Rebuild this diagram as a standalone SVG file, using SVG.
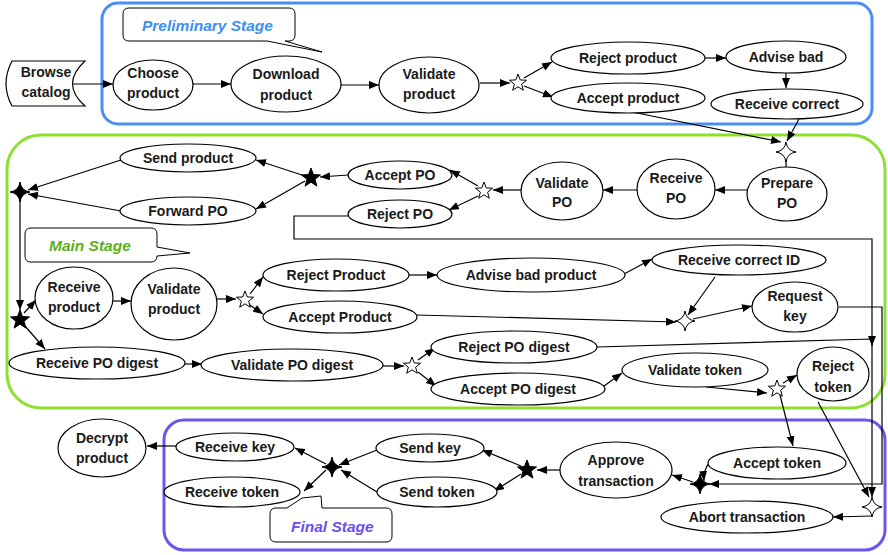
<svg xmlns="http://www.w3.org/2000/svg" width="888" height="555" viewBox="0 0 888 555">
<style>
.n ellipse,.n path{fill:#fff;stroke:#000;stroke-width:1.2}
.n text{font-family:"Liberation Sans",Arial,sans-serif;font-weight:bold;font-size:14px;text-anchor:middle;fill:#1a1a1a}
.c path{fill:none;stroke:#000;stroke-width:1.2}
.a{marker-end:url(#ah)}
.sw{fill:#fff;stroke:#000;stroke-width:1}
.sb{fill:#000;stroke:#000;stroke-width:1}
.co{fill:#fff;stroke:#000;stroke-width:1}
.lbl{font-family:"Liberation Sans",Arial,sans-serif;font-weight:bold;font-style:italic;font-size:15.5px}
</style>
<defs>
<marker id="ah" markerUnits="userSpaceOnUse" markerWidth="11" markerHeight="9" refX="10" refY="4" orient="auto">
<path d="M0,0 L10,4 L0,8 Z" fill="#000"/>
</marker>
<path id="s5" d="M0,-9 L2.23,-3.07 L8.56,-2.78 L3.61,1.17 L5.29,7.28 L0,3.8 L-5.29,7.28 L-3.61,1.17 L-8.56,-2.78 L-2.23,-3.07 Z"/>
<path id="s5b" d="M0,-10 L2.48,-3.41 L9.51,-3.09 L4.01,1.3 L5.88,8.09 L0,4.2 L-5.88,8.09 L-4.01,1.3 L-9.51,-3.09 L-2.48,-3.41 Z"/>
<path id="s4" d="M0,-10 Q1.2,-1.2 10,0 Q1.2,1.2 0,10 Q-1.2,1.2 -10,0 Q-1.2,-1.2 0,-10 Z"/>
</defs>
<rect width="888" height="555" fill="#fff"/>
<g id="stages">
<rect x="102" y="3" width="770" height="121" rx="16" fill="none" stroke="#4a8ef2" stroke-width="3"/>
<rect x="7" y="135" width="878" height="273" rx="34" fill="none" stroke="#8ddf32" stroke-width="3"/>
<rect x="164" y="420" width="721" height="130" rx="20" fill="none" stroke="#6b55ee" stroke-width="3"/>
</g>
<g id="callouts">
<path class="co" d="M129,8 H289 Q295,8 295,14 V35 Q295,41 289,41 H285 L322,52 L267,41 H129 Q123,41 123,35 V14 Q123,8 129,8 Z"/>
<text class="lbl" x="142" y="31" fill="#3d8ff5">Preliminary Stage</text>
<path class="co" d="M31,228 H151 Q157,228 157,234 V247 L190,253 L157,256 Q157,262 151,262 H31 Q25,262 25,256 V234 Q25,228 31,228 Z"/>
<text class="lbl" x="49" y="251" fill="#5fae1a">Main Stage</text>
<path class="co" d="M276,508 H287 L302,498 L321,496 L322,508 H386 Q392,508 392,514 V536 Q392,542 386,542 H276 Q270,542 270,536 V514 Q270,508 276,508 Z"/>
<text class="lbl" x="291" y="532" fill="#6a4ff0">Final Stage</text>
</g>
<g id="connectors" class="c">
<path class="a" d="M72,84 L113,84"/>
<path class="a" d="M192,84 L231,84"/>
<path class="a" d="M341,85 L379,85"/>
<path class="a" d="M480,83 L510,83"/>
<path class="a" d="M524,78 L552,62"/>
<path class="a" d="M524,86 L553,97"/>
<path class="a" d="M705,58 L726,58"/>
<path class="a" d="M786,73 L786,88"/>
<path class="a" d="M632,112 L781,142"/>
<path class="a" d="M799,119 L787,141"/>
<path d="M786,160 L786,167"/>
<path class="a" d="M748,190 L715,190"/>
<path class="a" d="M637,190 L603,190"/>
<path class="a" d="M522,190 L493,190"/>
<path class="a" d="M478,186 L450,170"/>
<path class="a" d="M478,196 L449,210"/>
<path class="a" d="M348,175 L320,177"/>
<path class="a" d="M305,176 L256,160"/>
<path class="a" d="M305,181 L256,209"/>
<path class="a" d="M121,160 L28,190"/>
<path class="a" d="M121,211 L28,194"/>
<path class="a" d="M20,200 L20,310"/>
<path class="a" d="M24,313 L36,300"/>
<path class="a" d="M25,326 L45,349"/>
<path class="a" d="M113,301 L131,301"/>
<path class="a" d="M217,299 L236,299"/>
<path class="a" d="M250,294 L263,277"/>
<path class="a" d="M250,305 L263,314"/>
<path class="a" d="M408,275 L437,275"/>
<path class="a" d="M624,274 L652,259"/>
<path class="a" d="M715,277 L688,315"/>
<path class="a" d="M417,315 L676,322"/>
<path class="a" d="M693,319 L752,306"/>
<path class="a" d="M839,307 H882 V484 H709"/>
<path class="a" d="M185,364 L202,364"/>
<path class="a" d="M383,366 L404,366"/>
<path class="a" d="M418,360 L435,348"/>
<path class="a" d="M418,372 L436,386"/>
<path class="a" d="M597,347 L872,339 L872,346"/>
<path class="a" d="M604,386 L622,373"/>
<path class="a" d="M706,387 L767,393"/>
<path class="a" d="M783,383 L797,375"/>
<path class="a" d="M780,395 L793,446"/>
<path class="a" d="M348,216 H294 V239 H872 V497"/>
<path class="a" d="M818,402 L869,497"/>
<path class="a" d="M872,516 L833,517"/>
<path class="a" d="M710,462 Q703,470 704,481"/>
<path class="a" d="M693,482 L672,475"/>
<path class="a" d="M560,470 L537,470"/>
<path class="a" d="M521,466 L482,450"/>
<path class="a" d="M521,474 L494,491"/>
<path class="a" d="M377,450 L339,465"/>
<path class="a" d="M377,492 L341,470"/>
<path class="a" d="M326,464 L295,448"/>
<path class="a" d="M326,470 L304,491"/>
<path class="a" d="M176,446 L147,446"/>
</g>
<g id="gateways">
<use href="#s5" class="sw" x="518" y="83"/>
<use href="#s5" class="sw" x="484" y="191"/>
<use href="#s5" class="sw" x="245" y="300"/>
<use href="#s5" class="sw" x="412" y="366"/>
<use href="#s5" class="sw" x="777" y="389"/>
<use href="#s5b" class="sb" x="311" y="178"/>
<use href="#s5b" class="sb" x="20" y="320"/>
<use href="#s5b" class="sb" x="527" y="470"/>
<use href="#s4" class="sw" x="786" y="152"/>
<use href="#s4" class="sw" x="685" y="321"/>
<use href="#s4" class="sw" x="872" y="507"/>
<use href="#s4" class="sb" x="20" y="192"/>
<use href="#s4" class="sb" x="700" y="484"/>
<use href="#s4" class="sb" x="332" y="467"/>
</g>
<g id="browse-catalog" class="n"><path d="M12,61 L85,61 Q60,84 85,106 L12,106 Q0,84 12,61 Z"/><text x="46" y="77">Browse</text><text x="46" y="97">catalog</text></g>
<g id="choose-product" class="n"><ellipse cx="153" cy="85" rx="40" ry="25"/><text x="153" y="78">Choose</text><text x="153" y="98">product</text></g>
<g id="download-product" class="n"><ellipse cx="286" cy="84" rx="55" ry="28"/><text x="286" y="79">Download</text><text x="286" y="100">product</text></g>
<g id="validate-product-1" class="n"><ellipse cx="429" cy="85" rx="50" ry="28"/><text x="429" y="79">Validate</text><text x="429" y="99">product</text></g>
<g id="reject-product-1" class="n"><ellipse cx="628" cy="58" rx="77" ry="16"/><text x="628" y="63">Reject product</text></g>
<g id="accept-product-1" class="n"><ellipse cx="628" cy="98" rx="77" ry="15"/><text x="628" y="103">Accept product</text></g>
<g id="advise-bad" class="n"><ellipse cx="786" cy="57" rx="60" ry="16"/><text x="786" y="62">Advise bad</text></g>
<g id="receive-correct" class="n"><ellipse cx="787" cy="104" rx="76" ry="15"/><text x="787" y="109">Receive correct</text></g>
<g id="prepare-po" class="n"><ellipse cx="787" cy="194" rx="40" ry="27"/><text x="787" y="188">Prepare</text><text x="787" y="208">PO</text></g>
<g id="receive-po" class="n"><ellipse cx="676" cy="189" rx="39" ry="30"/><text x="676" y="183">Receive</text><text x="676" y="203">PO</text></g>
<g id="validate-po" class="n"><ellipse cx="562" cy="191" rx="41" ry="29"/><text x="562" y="188">Validate</text><text x="562" y="207">PO</text></g>
<g id="accept-po" class="n"><ellipse cx="400" cy="175" rx="52" ry="14"/><text x="400" y="180">Accept PO</text></g>
<g id="reject-po" class="n"><ellipse cx="400" cy="214" rx="52" ry="14"/><text x="400" y="219">Reject PO</text></g>
<g id="send-product" class="n"><ellipse cx="188" cy="158" rx="68" ry="14"/><text x="188" y="163">Send product</text></g>
<g id="forward-po" class="n"><ellipse cx="188" cy="211" rx="68" ry="14"/><text x="188" y="216">Forward PO</text></g>
<g id="receive-product" class="n"><ellipse cx="74" cy="298" rx="39" ry="31"/><text x="74" y="292">Receive</text><text x="74" y="312">product</text></g>
<g id="validate-product-2" class="n"><ellipse cx="174" cy="304" rx="43" ry="36"/><text x="174" y="294">Validate</text><text x="174" y="314">product</text></g>
<g id="reject-product-2" class="n"><ellipse cx="336" cy="275" rx="73" ry="16"/><text x="336" y="280">Reject Product</text></g>
<g id="accept-product-2" class="n"><ellipse cx="340" cy="317" rx="77" ry="16"/><text x="340" y="322">Accept Product</text></g>
<g id="advise-bad-product" class="n"><ellipse cx="531" cy="275" rx="94" ry="17"/><text x="531" y="280">Advise bad product</text></g>
<g id="receive-correct-id" class="n"><ellipse cx="739" cy="260" rx="87" ry="15"/><text x="739" y="265">Receive correct ID</text></g>
<g id="request-key" class="n"><ellipse cx="795" cy="307" rx="43" ry="25"/><text x="795" y="301">Request</text><text x="795" y="321">key</text></g>
<g id="receive-po-digest" class="n"><ellipse cx="97" cy="363" rx="88" ry="16"/><text x="97" y="368">Receive PO digest</text></g>
<g id="validate-po-digest" class="n"><ellipse cx="292" cy="365" rx="91" ry="16"/><text x="292" y="370">Validate PO digest</text></g>
<g id="reject-po-digest" class="n"><ellipse cx="514" cy="347" rx="83" ry="16"/><text x="514" y="352">Reject PO digest</text></g>
<g id="accept-po-digest" class="n"><ellipse cx="518" cy="389" rx="87" ry="16"/><text x="518" y="394">Accept PO digest</text></g>
<g id="validate-token" class="n"><ellipse cx="695" cy="370" rx="73" ry="17"/><text x="695" y="375">Validate token</text></g>
<g id="reject-token" class="n"><ellipse cx="833" cy="374" rx="36" ry="27"/><text x="833" y="371">Reject</text><text x="833" y="392">token</text></g>
<g id="accept-token" class="n"><ellipse cx="777" cy="463" rx="69" ry="16"/><text x="777" y="468">Accept token</text></g>
<g id="approve-transaction" class="n"><ellipse cx="616" cy="470" rx="56" ry="28"/><text x="616" y="465">Approve</text><text x="616" y="486">transaction</text></g>
<g id="send-key" class="n"><ellipse cx="430" cy="448" rx="54" ry="14"/><text x="430" y="453">Send key</text></g>
<g id="send-token" class="n"><ellipse cx="437" cy="492" rx="60" ry="15"/><text x="437" y="497">Send token</text></g>
<g id="receive-key" class="n"><ellipse cx="235" cy="447" rx="59" ry="14"/><text x="235" y="452">Receive key</text></g>
<g id="receive-token" class="n"><ellipse cx="232" cy="492" rx="68" ry="15"/><text x="232" y="497">Receive token</text></g>
<g id="decrypt-product" class="n"><ellipse cx="102" cy="448" rx="44" ry="29"/><text x="102" y="443">Decrypt</text><text x="102" y="463">product</text></g>
<g id="abort-transaction" class="n"><ellipse cx="747" cy="517" rx="86" ry="16"/><text x="747" y="522">Abort transaction</text></g>
</svg>
